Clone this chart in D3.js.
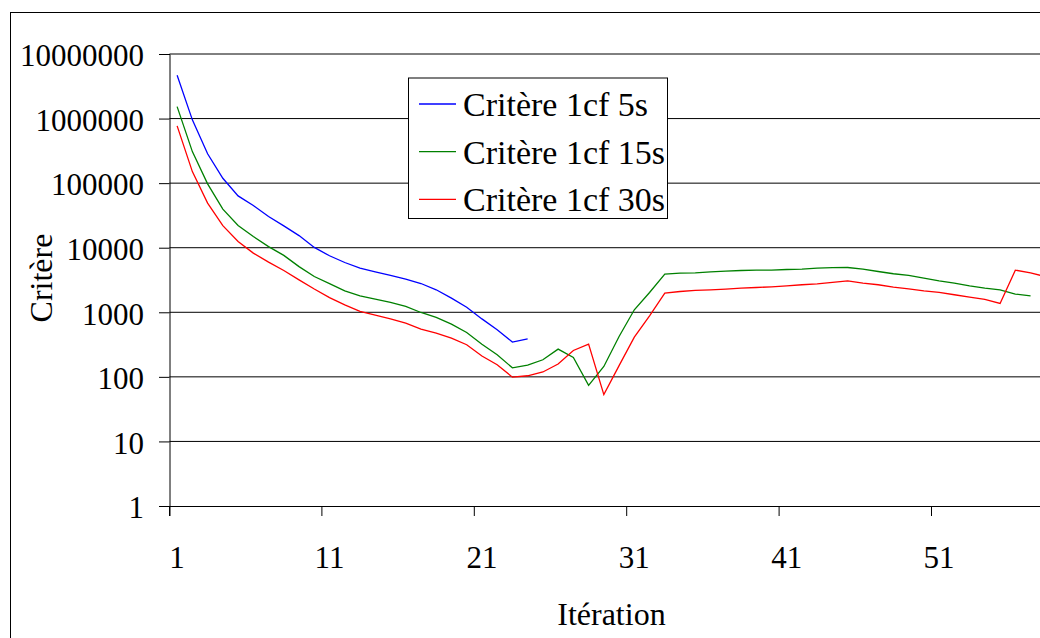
<!DOCTYPE html>
<html>
<head>
<meta charset="utf-8">
<script src="https://cdn.jsdelivr.net/npm/d3@7"></script>
<style>
  html, body { margin: 0; padding: 0; background: #fff; overflow: hidden; }
  svg { display: block; font-family: "Liberation Serif", "Times New Roman", serif; }
</style>
</head>
<body>
<div id="chart"></div>
<script>
// iterations 1..58
const categories = Array.from({length: 58}, (d, i) => String(i + 1))
const xTickLabels = ['1', '11', '21', '31', '41', '51']
const yTickValues = [1, 10, 100, 1000, 10000, 100000, 1000000, 10000000]

const crit5s = [4700000, 955000, 285000, 119000, 63500, 45000, 30400, 21800, 15400, 10100,
  7500, 5900, 4830, 4240, 3720, 3270, 2790, 2230, 1660, 1200,
  790, 536, 346, 389]

const crit15s = [1530000, 308000, 97500, 39600, 22100, 14900, 10400, 7600, 5100, 3580,
  2780, 2150, 1800, 1600, 1420, 1230, 993, 832, 656, 486,
  320, 220, 138, 152, 184, 269, 200, 74, 145, 422,
  1093, 2026, 3900, 4040, 4080, 4240, 4340, 4440, 4500, 4500,
  4600, 4650, 4830, 4900, 4940, 4660, 4280, 3950, 3720, 3380,
  3070, 2830, 2570, 2370, 2230, 1910, 1800]

const crit30s = [771000, 151000, 49000, 22000, 12500, 8250, 5980, 4430, 3180, 2290,
  1690, 1306, 1030, 905, 794, 681, 550, 476, 399, 314,
  210, 154, 99, 104, 119, 158, 256, 322, 53, 149,
  413, 883, 1980, 2100, 2180, 2230, 2290, 2370, 2420, 2480,
  2570, 2670, 2760, 2900, 3070, 2830, 2670, 2450, 2310, 2150,
  2030, 1870, 1720, 1580, 1370, 4500, 4090, 3550]

const seriesNames = ['Critère 1cf 5s', 'Critère 1cf 15s', 'Critère 1cf 30s']
const seriesColors = ['#0000ff', '#008000', '#ff0000']
const seriesValues = [crit5s, crit15s, crit30s]

const WIDTH = 1040
const HEIGHT = 638
const PLOT = {left: 169.5, top: 54, bottom: 506, step: 15.24}
const plotRight = PLOT.left + PLOT.step * categories.length

const svg = d3.select('#chart').append('svg')
  .attr('width', WIDTH).attr('height', HEIGHT)

// chart frame (cut by the window on the right and bottom)
svg.append('rect')
  .attr('x', 10.5).attr('y', 12.5).attr('width', 1200).attr('height', 800)
  .attr('fill', 'none').attr('stroke', '#000').attr('stroke-width', 1)

const x = d3.scaleBand().domain(categories).range([PLOT.left, plotRight]).padding(0)
const y = d3.scaleLog().domain([1, 10000000]).range([PLOT.bottom, PLOT.top])
const bw = x.bandwidth()

// gridlines
svg.append('g')
  .selectAll('line')
  .data(yTickValues.slice(1))
  .enter()
  .append('line')
  .attr('x1', PLOT.left).attr('x2', plotRight)
  .attr('y1', d => y(d)).attr('y2', d => y(d))
  .attr('stroke', '#000').attr('stroke-width', 1)

// y axis
svg.append('g')
  .attr('transform', `translate(${PLOT.left},0)`)
  .call(d3.axisLeft(y).tickValues(yTickValues).tickFormat(d3.format('d')).tickSizeOuter(0).tickSize(10.5).tickPadding(15))
  .call(g => {
    g.select('.domain').attr('stroke', '#000')
    g.selectAll('.tick line').attr('stroke', '#000')
    g.selectAll('.tick text').attr('font-size', 31).attr('font-family', 'Liberation Serif').attr('fill', '#000').attr('dy', '0.38em')
  })

// x axis
svg.append('g')
  .attr('transform', `translate(0,${PLOT.bottom})`)
  .call(d3.axisBottom(x).tickValues(xTickLabels).tickSizeOuter(0).tickSize(10).tickPadding(30))
  .call(g => {
    g.select('.domain').attr('stroke', '#000')
    g.selectAll('.tick line').attr('stroke', '#000').attr('x1', -bw / 2).attr('x2', -bw / 2)
    g.selectAll('.tick text').attr('font-size', 31).attr('font-family', 'Liberation Serif').attr('fill', '#000')
  })

// lines
const line = d3.line()
  .x((d, i) => x(categories[i]) + bw / 2)
  .y(d => y(d))

svg.append('g')
  .selectAll('path')
  .data(seriesValues)
  .enter()
  .append('path')
  .attr('d', d => line(d))
  .attr('fill', 'none')
  .attr('stroke', (d, i) => seriesColors[i])
  .attr('stroke-width', 1.3)

// axis titles
svg.append('text')
  .attr('x', (PLOT.left + plotRight) / 2).attr('y', 625)
  .attr('text-anchor', 'middle').attr('font-size', 32)
  .text('Itération')

svg.append('text')
  .attr('transform', `translate(51.5,${(PLOT.top + PLOT.bottom) / 2 - 2}) rotate(-90)`)
  .attr('text-anchor', 'middle').attr('font-size', 32)
  .text('Critère')

// legend
const legend = svg.append('g').attr('transform', 'translate(408.5,78)')
legend.append('rect')
  .attr('width', 259).attr('height', 140.5)
  .attr('fill', '#fff').attr('stroke', '#000').attr('stroke-width', 1)

legend.selectAll('g.item')
  .data(seriesNames)
  .enter()
  .append('g')
  .classed('item', true)
  .attr('transform', (d, i) => `translate(0,${26 + i * 47.7})`)
  .call(sel => {
    sel.append('line')
      .attr('x1', 10.5).attr('x2', 47.5).attr('y1', 0).attr('y2', 0)
      .attr('stroke', (d, i) => seriesColors[i]).attr('stroke-width', 1.3)
    sel.append('text')
      .attr('x', 54.5).attr('dy', '0.35em').attr('font-size', 34)
      .text(d => d)
  })
</script>
</body>
</html>
